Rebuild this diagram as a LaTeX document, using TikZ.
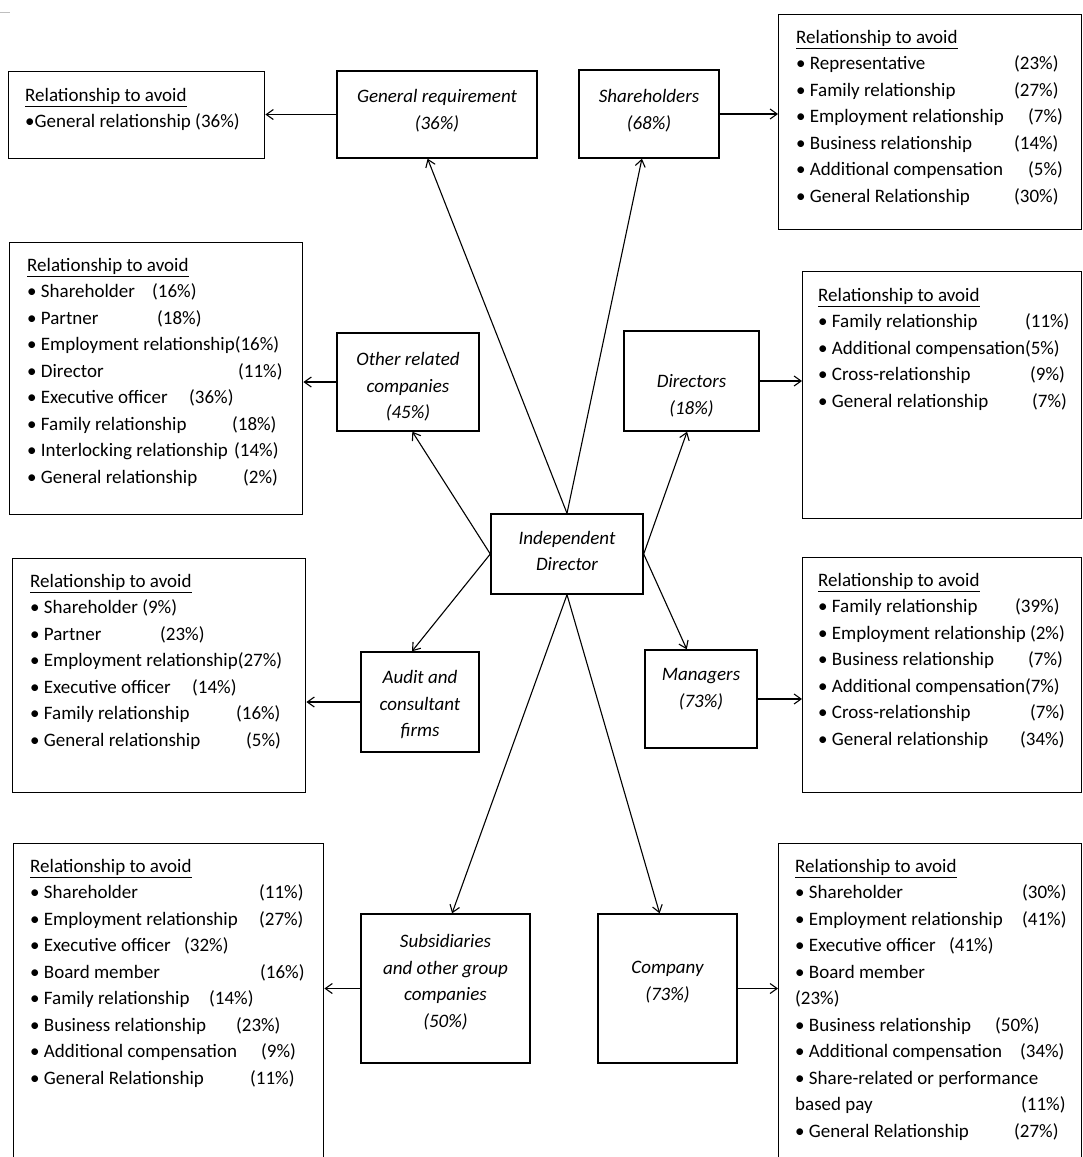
\documentclass[tikz,border=0pt]{standalone}
\usepackage{fontspec}
\setmainfont{Carlito}
\usetikzlibrary{arrows.meta}

\newcommand{\itm}[3]{\makebox[#1][l]{\textbullet\ #2}#3}
\newcommand{\hdr}{\underline{Relationship to avoid}}

\begin{document}
\begin{tikzpicture}[x=1pt, y=-1pt,
    every node/.style={font=\fontsize{19}{26.5}\selectfont},
    hub/.style={draw, line width=1.4pt, inner sep=0pt},
    hubtext/.style={inner sep=0pt, align=center, font=\fontsize{19}{26.5}\selectfont\itshape},
    avoidbox/.style={draw, line width=1.4pt, inner sep=0pt, anchor=north west},
    avoidlist/.style={inner sep=0pt, anchor=north west, align=left},
    arr/.style={-{Straight Barb[length=7pt,width=10pt]}, line width=1.1pt}]
    \clip (0,0) rectangle (1083,1157);
    \fill[white] (0,0) rectangle (1083,1157);
    \draw[gray!50, line width=1pt] (0,12) -- (10,12);

    % Central node
    \node[hub, minimum width=152pt, minimum height=80pt] (ind) at (567,554) {};
    \node[hubtext] (indT) at (567,551) {Independent\\Director};

    % Groups around it
    \node[hub, minimum width=200pt, minimum height=87pt] (gen) at (437,114.5) {};
    \node[hubtext] (genT) at (437,110.5) {General requirement\\(36\%)};
    \node[hub, minimum width=140pt, minimum height=88pt] (sh) at (649,114) {};
    \node[hubtext] (shT) at (649,110.5) {Shareholders\\(68\%)};
    \node[hub, minimum width=142pt, minimum height=98pt] (oth) at (408,382) {};
    \node[hubtext] (othT) at (408,387) {Other related\\companies\\(45\%)};
    \node[hub, minimum width=135pt, minimum height=100pt] (dir) at (691.5,381) {};
    \node[hubtext] (dirT) at (691.5,396) {Directors\\(18\%)};
    \node[hub, minimum width=118pt, minimum height=100pt] (aud) at (420,702) {};
    \node[hubtext] (audT) at (420,705) {Audit and\\consultant\\firms};
    \node[hub, minimum width=112pt, minimum height=98pt] (man) at (701,699) {};
    \node[hubtext] (manT) at (701,689) {Managers\\(73\%)};
    \node[hub, minimum width=169pt, minimum height=149pt] (sub) at (445.5,988.5) {};
    \node[hubtext] (subT) at (445.5,982) {Subsidiaries\\and other group\\companies\\(50\%)};
    \node[hub, minimum width=139pt, minimum height=149pt] (com) at (667.5,988.5) {};
    \node[hubtext] (comT) at (667.5,982) {Company\\(73\%)};

    % Relationship boxes
    \node[avoidbox, minimum width=256pt, minimum height=87pt] (genA) at (8,71) {};
    \node[avoidlist] (genL) at (25,88) {\hdr\\
        \textbullet General relationship (36\%)};

    \node[avoidbox, minimum width=303pt, minimum height=215pt] (shA) at (778,14) {};
    \node[avoidlist] (shL) at (796,30) {\hdr\\
        \itm{218pt}{Representative}{(23\%)}\\
        \itm{218pt}{Family relationship}{(27\%)}\\
        \itm{232pt}{Employment relationship}{(7\%)}\\
        \itm{218pt}{Business relationship}{(14\%)}\\
        \itm{232pt}{Additional compensation}{(5\%)}\\
        \itm{218pt}{General Relationship}{(30\%)}};

    \node[avoidbox, minimum width=293pt, minimum height=272pt] (othA) at (9,242) {};
    \node[avoidlist] (othL) at (27,258) {\hdr\\
        \itm{125pt}{Shareholder}{(16\%)}\\
        \itm{130pt}{Partner}{(18\%)}\\
        \textbullet\ Employment relationship(16\%)\\
        \itm{211pt}{Director}{(11\%)}\\
        \itm{162pt}{Executive officer}{(36\%)}\\
        \itm{205pt}{Family relationship}{(18\%)}\\
        \itm{207pt}{Interlocking relationship}{(14\%)}\\
        \itm{216pt}{General relationship}{(2\%)}};

    \node[avoidbox, minimum width=279pt, minimum height=247pt] (dirA) at (802,271) {};
    \node[avoidlist] (dirL) at (818,288) {\hdr\\
        \itm{207pt}{Family relationship}{(11\%)}\\
        \textbullet\ Additional compensation(5\%)\\
        \itm{212pt}{Cross-relationship}{(9\%)}\\
        \itm{214pt}{General relationship}{(7\%)}};

    \node[avoidbox, minimum width=293pt, minimum height=234pt] (audA) at (12,558) {};
    \node[avoidlist] (audL) at (30,574) {\hdr\\
        \textbullet\ Shareholder (9\%)\\
        \itm{130pt}{Partner}{(23\%)}\\
        \textbullet\ Employment relationship(27\%)\\
        \itm{162pt}{Executive officer}{(14\%)}\\
        \itm{206pt}{Family relationship}{(16\%)}\\
        \itm{216pt}{General relationship}{(5\%)}};

    \node[avoidbox, minimum width=279pt, minimum height=235pt] (manA) at (802,557) {};
    \node[avoidlist] (manL) at (818,573) {\hdr\\
        \itm{197pt}{Family relationship}{(39\%)}\\
        \textbullet\ Employment relationship (2\%)\\
        \itm{210pt}{Business relationship}{(7\%)}\\
        \textbullet\ Additional compensation(7\%)\\
        \itm{212pt}{Cross-relationship}{(7\%)}\\
        \itm{202pt}{General relationship}{(34\%)}};

    \node[avoidbox, minimum width=310pt, minimum height=330pt] (subA) at (13,843) {};
    \node[avoidlist] (subL) at (30,859) {\hdr\\
        \itm{229pt}{Shareholder}{(11\%)}\\
        \itm{229pt}{Employment relationship}{(27\%)}\\
        \itm{154pt}{Executive officer}{(32\%)}\\
        \itm{230pt}{Board member}{(16\%)}\\
        \itm{179pt}{Family relationship}{(14\%)}\\
        \itm{206pt}{Business relationship}{(23\%)}\\
        \itm{231pt}{Additional compensation}{(9\%)}\\
        \itm{220pt}{General Relationship}{(11\%)}};

    \node[avoidbox, minimum width=303pt, minimum height=330pt] (comA) at (778,843) {};
    \node[avoidlist] (comL) at (795,859) {\hdr\\
        \itm{227pt}{Shareholder}{(30\%)}\\
        \itm{227pt}{Employment relationship}{(41\%)}\\
        \itm{154pt}{Executive officer}{(41\%)}\\
        \textbullet\ Board member\\
        (23\%)\\
        \itm{200pt}{Business relationship}{(50\%)}\\
        \itm{225pt}{Additional compensation}{(34\%)}\\
        \textbullet\ Share-related or performance\\
        \makebox[226pt][l]{based pay}(11\%)\\
        \itm{219pt}{General Relationship}{(27\%)}};

    % Spokes
    \draw[arr] (ind.north) -- (gen.258);
    \draw[arr] (ind.north) -- (sh.261);
    \draw[arr] (ind.west) -- (oth.275);
    \draw[arr] (ind.west) -- (aud.99);
    \draw[arr] (ind.east) -- (dir.265);
    \draw[arr] (ind.east) -- (man.106);
    \draw[arr] (ind.south) -- (sub.85);
    \draw[arr] (ind.south) -- (com.96);

    % To the relationship boxes
    \draw[arr] (gen.west) -- (gen.west -| genA.east);
    \draw[arr] (sh.east) -- (sh.east -| shA.west);
    \draw[arr] (oth.west) -- (oth.west -| othA.east);
    \draw[arr] (dir.east) -- (dir.east -| dirA.west);
    \draw[arr] (aud.west) -- (aud.west -| audA.east);
    \draw[arr] (man.east) -- (man.east -| manA.west);
    \draw[arr] (sub.west) -- (sub.west -| subA.east);
    \draw[arr] (com.east) -- (com.east -| comA.west);
\end{tikzpicture}
\end{document}
